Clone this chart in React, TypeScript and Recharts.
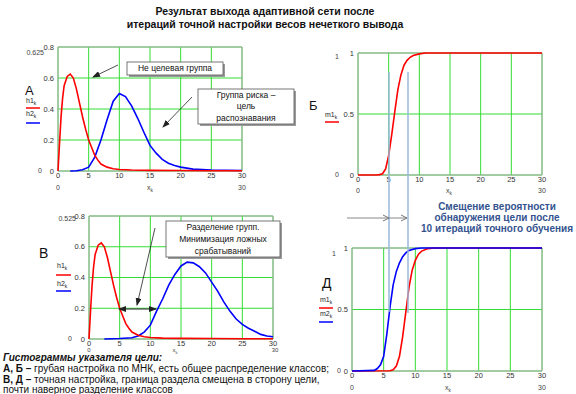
import React from "react";
import { LineChart, Line, XAxis, YAxis, CartesianGrid, ReferenceArea } from "recharts";

// x grid ticks
const xTicks = [0, 5, 10, 15, 20, 25, 30];
const yTicksHist = [0, 0.2, 0.4, 0.6, 0.8];
const yTicksProb = [0, 0.5, 1];

// h1 - non-target group histogram (same in A and В)
const h1X = [0, 0.25, 0.5, 0.75, 1, 1.5, 2, 2.5, 3, 3.5, 4, 4.5, 5, 5.5, 6, 6.5, 7, 8, 9, 10, 12, 15, 20, 25, 30];
const h1Y = [0, 0.18, 0.35, 0.47, 0.55, 0.61, 0.625, 0.6, 0.53, 0.44, 0.35, 0.27, 0.2, 0.15, 0.1, 0.07, 0.045, 0.025, 0.015, 0.01, 0.006, 0.004, 0.003, 0.002, 0.002];

// h2 - risk group, coarse tuning (A)
const h2aX = [2, 3, 4, 5, 6, 7, 8, 9, 10, 11, 12, 13, 14, 15, 16, 17, 18, 19, 20, 22, 25, 30];
const h2aY = [0, 0.002, 0.008, 0.025, 0.09, 0.2, 0.33, 0.45, 0.5, 0.48, 0.42, 0.34, 0.25, 0.165, 0.115, 0.075, 0.05, 0.035, 0.025, 0.012, 0.006, 0.003];

// h2 - risk group, fine tuning (В)
const h2cX = [2.5, 5, 7, 8, 9, 10, 11, 12, 13, 14, 15, 16, 17, 18, 19, 20, 21, 22, 23, 24, 25, 26, 27, 28, 29, 30];
const h2cY = [0, 0.003, 0.008, 0.02, 0.045, 0.09, 0.18, 0.26, 0.35, 0.42, 0.475, 0.5, 0.495, 0.47, 0.43, 0.37, 0.31, 0.24, 0.18, 0.13, 0.095, 0.07, 0.05, 0.03, 0.02, 0.015];

// m1 - detection probability, coarse (Б)
const m1bX = [0, 3, 3.5, 4, 4.5, 5, 5.5, 6, 6.5, 7, 7.5, 8, 8.5, 9, 10, 11, 30];
const m1bY = [0, 0, 0.003, 0.01, 0.05, 0.16, 0.33, 0.52, 0.7, 0.82, 0.9, 0.94, 0.965, 0.98, 0.993, 1, 1];

// m1 / m2 - detection probability after fine tuning (Д)
const m1dX = [0, 6, 6.5, 7, 7.5, 8, 8.5, 9, 9.5, 10, 10.5, 11, 12, 13, 30];
const m1dY = [0, 0.002, 0.01, 0.04, 0.12, 0.28, 0.48, 0.68, 0.82, 0.9, 0.95, 0.975, 0.995, 1, 1];
const m2dX = [0, 3.5, 4, 4.5, 5, 5.5, 6, 6.5, 7, 7.5, 8, 8.5, 9, 10, 11, 30];
const m2dY = [0, 0.005, 0.02, 0.05, 0.12, 0.3, 0.52, 0.7, 0.81, 0.88, 0.93, 0.96, 0.98, 0.995, 1, 1];

const pts = (xs: number[], ys: number[]) => xs.map((x, i) => ({ x, y: ys[i] }));

const GRID = "#33dd33";
const FONT = "Liberation Sans, Arial, sans-serif";

type Series = { data: { x: number; y: number }[]; color: string };

function Panel({ L, R, T, B, yMax, yTicks, series }: { L: number; R: number; T: number; B: number; yMax: number; yTicks: number[]; series: Series[] }) {
  const yw = 30;
  const mt = 5;
  const mr = 8;
  const xh = 14;
  const mb = 4;
  const w = R - L + yw + mr;
  const h = B - T + mt + xh + mb;
  return (
    <div style={{ position: "absolute", left: L - yw, top: T - mt }}>
      <LineChart width={w} height={h} margin={{ top: mt, right: mr, bottom: mb, left: 0 }}>
        <CartesianGrid stroke={GRID} strokeWidth={1} fill="#ffffff" />
        <XAxis
          type="number"
          dataKey="x"
          domain={[0, 30]}
          ticks={xTicks}
          tickLine={false}
          axisLine={false}
          tickSize={0}
          tickMargin={2}
          height={xh}
          tick={{ fontSize: 7.5, fill: "#333", fontFamily: FONT }}
          allowDuplicatedCategory={false}
        />
        <YAxis
          type="number"
          domain={[0, yMax]}
          ticks={yTicks}
          tickLine={false}
          axisLine={false}
          tickSize={0}
          tickMargin={4}
          width={yw}
          tick={{ fontSize: 7.5, fill: "#333", fontFamily: FONT }}
        />
        <ReferenceArea x1={0} x2={30} y1={0} y2={yMax} fill="none" stroke="#aaaaaa" strokeWidth={1} />
        {series.map((s, i) => (
          <Line key={i} data={s.data} dataKey="y" type="linear" stroke={s.color} strokeWidth={1.6} dot={false} isAnimationActive={false} />
        ))}
      </LineChart>
    </div>
  );
}

const Sub = ({ x, y, main, sub, fill = "#222", anchor = "start", fs = 7 }: { x: number; y: number; main: string; sub: string; fill?: string; anchor?: string; fs?: number }) => (
  <text x={x} y={y} fontSize={fs} fontFamily={FONT} fill={fill} textAnchor={anchor as any}>
    {main}
    <tspan fontSize={fs * 0.7} dy={1.5}>{sub}</tspan>
  </text>
);

const Lim = ({ x, y, t, anchor = "middle", fs = 7 }: { x: number; y: number; t: string; anchor?: string; fs?: number }) => (
  <text x={x} y={y} fontSize={fs} fontFamily={FONT} fill="#444" textAnchor={anchor as any}>
    {t}
  </text>
);

function Box({ x, y, w, h, lines, fs = 8.5 }: { x: number; y: number; w: number; h: number; lines: string[]; fs?: number }) {
  const step = h / lines.length;
  return (
    <g>
      <rect x={x + 2} y={y + 2} width={w} height={h} fill="#9a9a9a" />
      <rect x={x} y={y} width={w} height={h} fill="#ffffff" stroke="#555" strokeWidth={0.8} />
      {lines.map((l, i) => (
        <text key={i} x={x + w / 2} y={y + step * i + step / 2 + fs * 0.35} fontSize={fs} fontFamily={FONT} textAnchor="middle" fill="#111">
          {l}
        </text>
      ))}
    </g>
  );
}

export default function App() {
  return (
    <div style={{ position: "absolute", left: 0, top: 0, width: 576, height: 394, background: "#fff", overflow: "hidden" }}>
      <Panel L={58} R={242} T={47} B={171} yMax={0.8} yTicks={yTicksHist}
        series={[{ data: pts(h2aX, h2aY), color: "#0000ff" }, { data: pts(h1X, h1Y), color: "#ff0000" }]} />
      <Panel L={358} R={542} T={53} B={175} yMax={1} yTicks={yTicksProb}
        series={[{ data: pts(m1bX, m1bY), color: "#ff0000" }]} />
      <Panel L={89} R={273} T={216} B={339} yMax={0.8} yTicks={yTicksHist}
        series={[{ data: pts(h2cX, h2cY), color: "#0000ff" }, { data: pts(h1X, h1Y), color: "#ff0000" }]} />
      <Panel L={352} R={542} T={248} B={371} yMax={1} yTicks={yTicksProb}
        series={[{ data: pts(m1dX, m1dY), color: "#ff0000" }, { data: pts(m2dX, m2dY), color: "#0000ff" }]} />

      <svg width={576} height={394} style={{ position: "absolute", left: 0, top: 0, pointerEvents: "none" }}>
        <defs>
          <marker id="ah" markerWidth="8" markerHeight="6" refX="7" refY="3" orient="auto" markerUnits="userSpaceOnUse">
            <path d="M0,0 L8,3 L0,6 Z" fill="#222" />
          </marker>
          <marker id="ahs" markerWidth="8" markerHeight="6" refX="1" refY="3" orient="auto" markerUnits="userSpaceOnUse">
            <path d="M8,0 L0,3 L8,6 Z" fill="#222" />
          </marker>
          <marker id="ao" markerWidth="8" markerHeight="8" refX="7" refY="4" orient="auto" markerUnits="userSpaceOnUse">
            <path d="M1,1 L7,4 L1,7" fill="none" stroke="#777" strokeWidth={1} />
          </marker>
        </defs>

        {/* title */}
        <text x={265} y={15} fontSize={10.5} fontWeight="bold" fontFamily={FONT} textAnchor="middle" fill="#111">
          Результат  выхода адаптивной сети после
        </text>
        <text x={265} y={28} fontSize={10.5} fontWeight="bold" fontFamily={FONT} textAnchor="middle" fill="#111">
          итераций точной настройки весов нечеткого вывода
        </text>

        {/* panel A */}
        <text x={25} y={95} fontSize={13} fontFamily={FONT} fill="#111">А</text>
        <Sub x={26} y={103} main="h1" sub="k" />
        <line x1={26} y1={108} x2={40} y2={108} stroke="#ff0000" strokeWidth={1.5} />
        <Sub x={26} y={116} main="h2" sub="k" />
        <line x1={26} y1={123} x2={40} y2={123} stroke="#0000ff" strokeWidth={1.5} />
        <Lim x={44} y={55} t="0.625" anchor="end" />
        <Lim x={42} y={173} t="0" anchor="end" />
        <Lim x={58} y={190} t="0" />
        <Sub x={150} y={190} main="x" sub="k" fill="#444" anchor="middle" />
        <Lim x={242} y={190} t="30" />
        <Box x={127} y={62} w={96} h={13} lines={["Не целевая группа"]} />
        <line x1={118} y1={65} x2={93} y2={77} stroke="#222" strokeWidth={0.8} markerEnd="url(#ah)" />
        <Box x={198} y={89} w={96} h={35} lines={["Группа риска –", "цель", "распознавания"]} />
        <line x1={192} y1={97} x2={163} y2={127} stroke="#222" strokeWidth={0.8} markerEnd="url(#ah)" />

        {/* panel Б */}
        <text x={309} y={110} fontSize={13} fontFamily={FONT} fill="#111">Б</text>
        <Sub x={325} y={117} main="m1" sub="k" />
        <line x1={325} y1={122} x2={339} y2={122} stroke="#ff0000" strokeWidth={1.5} />
        <Lim x={339} y={59} t="1" anchor="end" />
        <Lim x={339} y={177} t="0" anchor="end" />
        <Lim x={358} y={193} t="0" />
        <Sub x={449} y={193} main="x" sub="k" fill="#444" anchor="middle" />
        <Lim x={542} y={193} t="30" />

        {/* panel В */}
        <text x={39} y={258} fontSize={14} fontFamily={FONT} fill="#111">В</text>
        <Sub x={57} y={268} main="h1" sub="k" />
        <line x1={56} y1={275} x2={71} y2={275} stroke="#ff0000" strokeWidth={1.5} />
        <Sub x={57} y={286} main="h2" sub="k" />
        <line x1={56} y1={291} x2={71} y2={291} stroke="#0000ff" strokeWidth={1.5} />
        <Lim x={76} y={221} t="0.525" anchor="end" />
        <Lim x={72} y={341} t="0" anchor="end" />
        <Lim x={89} y={352} t="0" fs={6} />
        <Sub x={175} y={352} main="x" sub="k" fill="#444" anchor="middle" fs={6} />
        <Lim x={275} y={352} t="30" fs={6} />
        <Box x={166} y={221} w={114} h={36} lines={["Разделение групп.", "Минимизация ложных", "срабатываний"]} fs={8.5} />
        <line x1={155} y1={228} x2={137} y2={305} stroke="#222" strokeWidth={0.8} markerEnd="url(#ah)" />
        <line x1={119} y1={309} x2={156} y2={309} stroke="#222" strokeWidth={1} markerStart="url(#ahs)" markerEnd="url(#ah)" />

        {/* panel Д */}
        <text x={322} y={288} fontSize={14} fontFamily={FONT} fill="#111">Д</text>
        <Sub x={320} y={302} main="m1" sub="k" />
        <line x1={319} y1={308} x2={333} y2={308} stroke="#ff0000" strokeWidth={1.5} />
        <Sub x={320} y={316} main="m2" sub="k" />
        <line x1={319} y1={322} x2={333} y2={322} stroke="#0000ff" strokeWidth={1.5} />
        <Lim x={336} y={256} t="1" anchor="end" />
        <Lim x={341} y={373} t="0" anchor="end" />
        <Lim x={352} y={390} t="0" />
        <Sub x={448} y={390} main="x" sub="k" fill="#444" anchor="middle" />
        <Lim x={542} y={390} t="30" />

        {/* shift markers */}
        <line x1={389} y1={72} x2={389} y2={312} stroke="#9ab8dc" strokeWidth={1.5} />
        <line x1={408} y1={72} x2={408} y2={313} stroke="#9ab8dc" strokeWidth={1.5} />
        <line x1={347} y1={218} x2={389} y2={218} stroke="#888" strokeWidth={1} markerEnd="url(#ao)" />
        <line x1={389} y1={218} x2={407} y2={218} stroke="#888" strokeWidth={1} markerEnd="url(#ao)" />
        <g fontSize={10} fontWeight="bold" fontFamily={FONT} fill="#34538f" textAnchor="middle">
          <text x={497} y={210}>Смещение вероятности</text>
          <text x={497} y={221}>обнаружения цели после</text>
          <text x={497} y={232}>10 итераций точного обучения</text>
        </g>

        {/* bottom caption */}
        <g fontFamily={FONT} fill="#111" fontSize={10}>
          <text x={3} y={361} fontWeight="bold" fontStyle="italic">Гистограммы указателя цели:</text>
          <text x={3} y={372}>
            <tspan fontWeight="bold">А, Б – </tspan>грубая настройка по МНК, есть общее распределение классов;
          </text>
          <text x={3} y={383}>
            <tspan fontWeight="bold">В, Д – </tspan>точная настройка, граница раздела смещена в сторону цели,
          </text>
          <text x={3} y={393}>почти наверное разделение классов</text>
        </g>
      </svg>
    </div>
  );
}
